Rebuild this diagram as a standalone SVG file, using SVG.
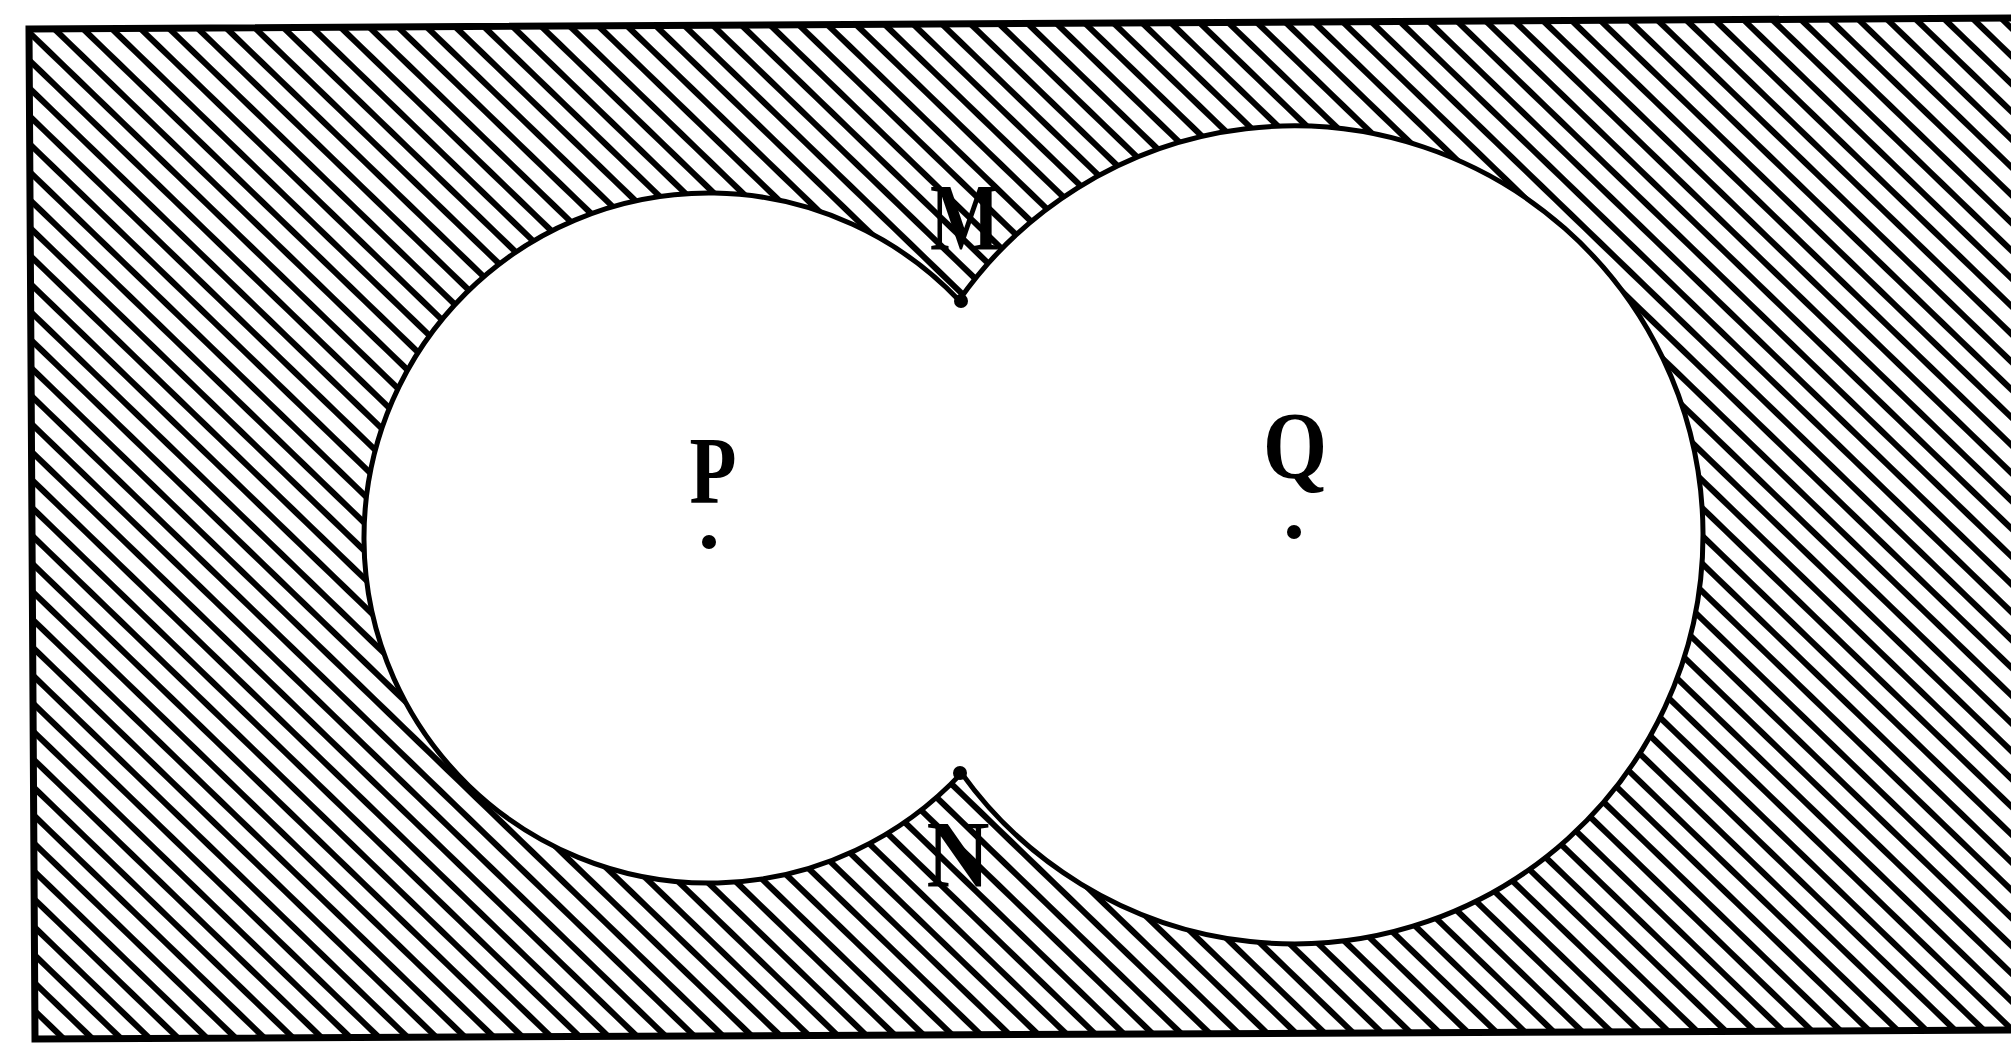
<svg xmlns="http://www.w3.org/2000/svg" width="2011" height="1045" viewBox="0 0 2011 1045">
<style>
.lbl{font-family:"Liberation Serif","DejaVu Serif",serif;font-weight:bold;font-size:96px;fill:#000;text-anchor:middle}
.edge{fill:none;stroke:#000;stroke-width:7;stroke-linejoin:miter}
.outline{fill:#fff;stroke:#000;stroke-width:5}
.dot{fill:#000}
</style>
<defs>
<pattern id="hatch" patternUnits="userSpaceOnUse" width="40" height="20" patternTransform="rotate(44)">
<rect x="0" y="0" width="40" height="6" fill="#000"/>
</pattern>
</defs>
<rect x="0" y="0" width="2011" height="1045" fill="#fff"/>
<g id="region">
<polygon points="29,29 2030,18 2030,1030 35,1039" fill="#fff"/>
<polygon points="29,29 2030,18 2030,1030 35,1039" fill="url(#hatch)"/>
<polygon class="edge" points="29,29 2030,18 2030,1030 35,1039"/>
</g>
<g id="circles">
<path class="outline" d="M 959 300.3 A 345 345 0 1 0 961.5 773.1 A 409 409 0 1 0 959 300.3 Z"/>
</g>
<g id="node-P">
<text class="lbl" x="713" y="503" textLength="47" lengthAdjust="spacingAndGlyphs">P</text>
<circle class="dot" cx="709" cy="542" r="7"/>
</g>
<g id="node-Q">
<text class="lbl" x="1295" y="478" textLength="64" lengthAdjust="spacingAndGlyphs">Q</text>
<circle class="dot" cx="1294" cy="532" r="7"/>
</g>
<g id="node-M">
<text class="lbl" x="965" y="250" textLength="70" lengthAdjust="spacingAndGlyphs">M</text>
<circle class="dot" cx="961" cy="301" r="7"/>
</g>
<g id="node-N">
<text class="lbl" x="958" y="887" textLength="63" lengthAdjust="spacingAndGlyphs">N</text>
<circle class="dot" cx="960" cy="773" r="7"/>
</g>
<g id="connectors"></g>
</svg>
